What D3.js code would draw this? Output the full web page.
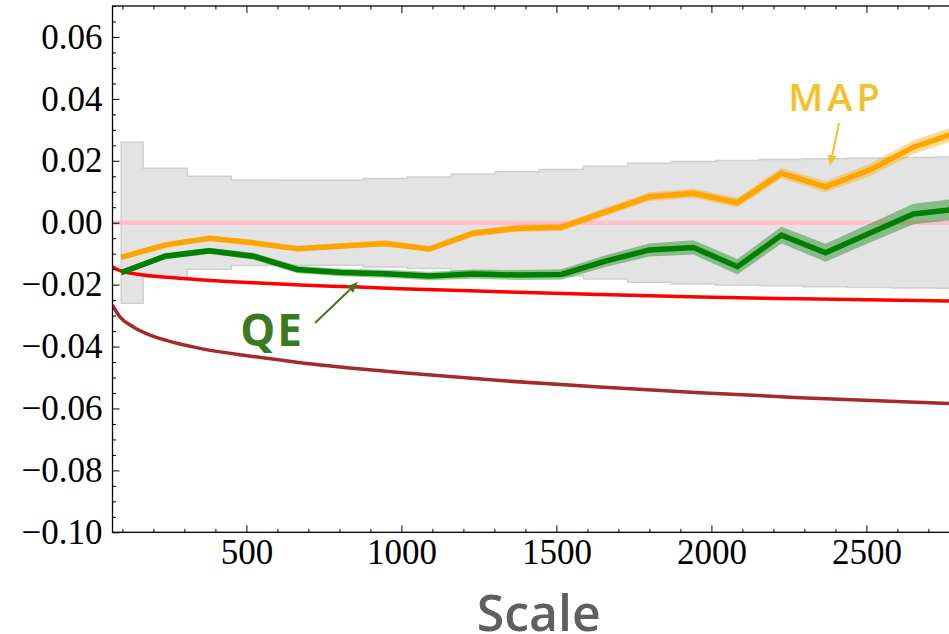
<!DOCTYPE html>
<html>
<head>
<meta charset="utf-8">
<script src="https://cdn.jsdelivr.net/npm/d3@7"></script>
<style>
  body { margin: 0; background: #fff; }
  svg { display: block; }
  .tick text { font-family: "Liberation Serif", serif; font-size: 35px; fill: #000; }
  .tick line { stroke: #000; stroke-width: 1; }
</style>
</head>
<body>
<svg id="chart" width="949" height="634"></svg>
<script>
// sample positions (scale) of the MAP / QE runs
scales = [96, 238, 380, 522, 664, 806, 948, 1090, 1232, 1374, 1516, 1658, 1800, 1942, 2084, 2226, 2368, 2510, 2652, 2794]

mapMean = [-0.0112, -0.0072, -0.0050, -0.0065, -0.0084, -0.0075, -0.0067, -0.0085, -0.0034, -0.0018,
           -0.0015, 0.0035, 0.0084, 0.0095, 0.0065, 0.0160, 0.0116, 0.0170, 0.0244, 0.0292]
mapErr  = [0.0007, 0.0007, 0.0008, 0.0008, 0.0009, 0.0009, 0.0010, 0.0010, 0.0011, 0.0011,
           0.0012, 0.0013, 0.0014, 0.0015, 0.0016, 0.0017, 0.0018, 0.0020, 0.0022, 0.0023]

qeMean  = [-0.0161, -0.0108, -0.0091, -0.0108, -0.0151, -0.0161, -0.0165, -0.0172, -0.0166, -0.0169,
           -0.0167, -0.0124, -0.0088, -0.0080, -0.0142, -0.0040, -0.0097, -0.0034, 0.0028, 0.0044]
qeErr   = [0.0009, 0.0010, 0.0010, 0.0011, 0.0012, 0.0012, 0.0013, 0.0014, 0.0015, 0.0016,
           0.0017, 0.0019, 0.0021, 0.0023, 0.0025, 0.0027, 0.0029, 0.0031, 0.0033, 0.0034]

// grey reference band (half width around zero)
bandHalf = [0.0260, 0.0176, 0.0150, 0.0138, 0.0137, 0.0137, 0.0143, 0.0148, 0.0157, 0.0165,
            0.0172, 0.0182, 0.0192, 0.0198, 0.0201, 0.0204, 0.0207, 0.0209, 0.0211, 0.0212]

// smooth reference curves
curveScales = [68, 92, 134, 189, 244, 350, 521, 673, 834, 995, 1318, 1640, 1963, 2286, 2767, 2818]
redCurve    = [-0.0142, -0.0155, -0.0164, -0.0171, -0.0176, -0.0184, -0.0194, -0.0201, -0.0207, -0.0213,
               -0.0223, -0.0232, -0.0240, -0.0246, -0.0253, -0.0254]
brownCurve  = [-0.0266, -0.0304, -0.0336, -0.0363, -0.0381, -0.0406, -0.0432, -0.0452, -0.0469, -0.0484,
               -0.0510, -0.0531, -0.0549, -0.0565, -0.0584, -0.0586]

yTicks = [-0.10, -0.08, -0.06, -0.04, -0.02, 0.00, 0.02, 0.04, 0.06]
xTicks = [500, 1000, 1500, 2000, 2500]

var pL = 112.5, pR = 965, pT = 6, pB = 532.3

var svg = d3.select("#chart")

var x = d3.scaleLinear().domain([68, 2818]).range([pL, pR])
var y = d3.scaleLinear().domain([-0.10, 0.07]).range([pB, pT])

svg.append("defs").append("clipPath").attr("id", "plot-clip")
    .append("rect")
    .attr("x", pL).attr("y", pT)
    .attr("width", pR - pL).attr("height", pB - pT)

var plot = svg.append("g").attr("clip-path", "url(#plot-clip)")

var pts = scales.map((s, i) => ({s: s, map: mapMean[i], mapE: mapErr[i], qe: qeMean[i], qeE: qeErr[i], band: bandHalf[i]}))

// grey band, step style
plot.append("path")
    .datum(pts)
    .attr("fill", "#e3e3e3")
    .attr("stroke", "#cfcfcf")
    .attr("stroke-width", 1.5)
    .attr("d", d3.area().curve(d3.curveStep)
        .x(d => x(d.s)).y0(d => y(-d.band)).y1(d => y(d.band)))

// zero line
plot.append("line")
    .attr("x1", pL).attr("x2", pR)
    .attr("y1", y(0)).attr("y2", y(0))
    .attr("stroke", "#ffc0cb").attr("stroke-width", 4.5)

var curvePts = curveScales.map((s, i) => ({s: s, red: redCurve[i], brown: brownCurve[i]}))

plot.append("path")
    .datum(curvePts)
    .attr("fill", "none").attr("stroke", "#ff0000").attr("stroke-width", 3.5)
    .attr("d", d3.line().curve(d3.curveMonotoneX).x(d => x(d.s)).y(d => y(d.red)))

plot.append("path")
    .datum(curvePts)
    .attr("fill", "none").attr("stroke", "#a52a2a").attr("stroke-width", 3.5)
    .attr("d", d3.line().curve(d3.curveMonotoneX).x(d => x(d.s)).y(d => y(d.brown)))

function drawRun(key, errKey, color) {
    plot.append("path")
        .datum(pts)
        .attr("fill", color).attr("fill-opacity", 0.4)
        .attr("d", d3.area().x(d => x(d.s))
            .y0(d => y(d[key] - d[errKey])).y1(d => y(d[key] + d[errKey])))
    plot.append("path")
        .datum(pts)
        .attr("fill", "none").attr("stroke", color).attr("stroke-width", 5.5)
        .attr("stroke-linejoin", "miter")
        .attr("d", d3.line().x(d => x(d.s)).y(d => y(d[key])))
}
drawRun("qe", "qeE", "#008000")
drawRun("map", "mapE", "#ffa500")

// axes, ticks pointing inward on all four sides
var yMinor = d3.range(-0.10, 0.0701, 0.005).filter(v => Math.abs(Math.round(v * 1000) % 20) !== 0)
var xMinor = d3.range(100, 2801, 100).filter(v => v % 500 !== 0)

function fmtY(v) {
    var s = Math.abs(v).toFixed(2)
    return v < -1e-9 ? "\u2212" + s : s
}

svg.append("g").attr("transform", `translate(${pL},0)`)
    .call(d3.axisLeft(y).tickValues(yTicks).tickFormat(fmtY).tickSize(-7).tickPadding(10))
svg.append("g").attr("transform", `translate(${pL},0)`)
    .call(d3.axisLeft(y).tickValues(yMinor).tickFormat("").tickSize(-3.5))
svg.append("g").attr("transform", `translate(${pR},0)`)
    .call(d3.axisRight(y).tickValues(yTicks).tickFormat("").tickSize(-7))

svg.append("g").attr("transform", `translate(0,${pB})`)
    .call(d3.axisBottom(x).tickValues(xTicks).tickFormat(d3.format("d")).tickSize(-7).tickPadding(7))
svg.append("g").attr("transform", `translate(0,${pB})`)
    .call(d3.axisBottom(x).tickValues(xMinor).tickFormat("").tickSize(-3.5))
svg.append("g").attr("transform", `translate(0,${pT})`)
    .call(d3.axisTop(x).tickValues(xTicks).tickFormat("").tickSize(-7))
svg.append("g").attr("transform", `translate(0,${pT})`)
    .call(d3.axisTop(x).tickValues(xMinor).tickFormat("").tickSize(-3.5))

svg.selectAll(".domain").remove()

svg.append("rect")
    .attr("x", pL).attr("y", pT)
    .attr("width", pR - pL).attr("height", pB - pT)
    .attr("fill", "none").attr("stroke", "#000").attr("stroke-width", 1.3)

// x label
svg.append("text")
    .attr("x", (pL + pR) / 2).attr("y", 631)
    .attr("text-anchor", "middle")
    .style("font-family", "'Open Sans', sans-serif").style("font-size", "50px").style("font-weight", 600)
    .attr("fill", "#5f5f5f")
    .text("Scale")

// annotations
function arrow(x1, y1, x2, y2, color) {
    var ang = Math.atan2(y2 - y1, x2 - x1), L = 11, W = 4.5
    var bx = x2 - L * Math.cos(ang), by = y2 - L * Math.sin(ang)
    svg.append("line")
        .attr("x1", x1).attr("y1", y1).attr("x2", bx).attr("y2", by)
        .attr("stroke", color).attr("stroke-width", 2)
    svg.append("path")
        .attr("fill", color)
        .attr("d", `M${x2},${y2}L${bx - W * Math.sin(ang)},${by + W * Math.cos(ang)}L${bx + W * Math.sin(ang)},${by - W * Math.cos(ang)}Z`)
}

svg.append("text")
    .attr("x", 836).attr("y", 111).attr("text-anchor", "middle")
    .style("font-family", "'Open Sans', sans-serif").style("font-size", "38px").style("font-weight", 600)
    .style("letter-spacing", "4px")
    .attr("fill", "#f2c12e")
    .text("MAP")
arrow(839, 123, 830, 166, "#f2c12e")

svg.append("text")
    .attr("x", 272).attr("y", 346).attr("text-anchor", "middle")
    .style("font-family", "'Open Sans', sans-serif").style("font-size", "44px").style("font-weight", 700)
    .style("letter-spacing", "2px")
    .attr("fill", "#3b7a1f")
    .text("QE")
arrow(315, 323, 358, 282, "#3b7a1f")
</script>
</body>
</html>
